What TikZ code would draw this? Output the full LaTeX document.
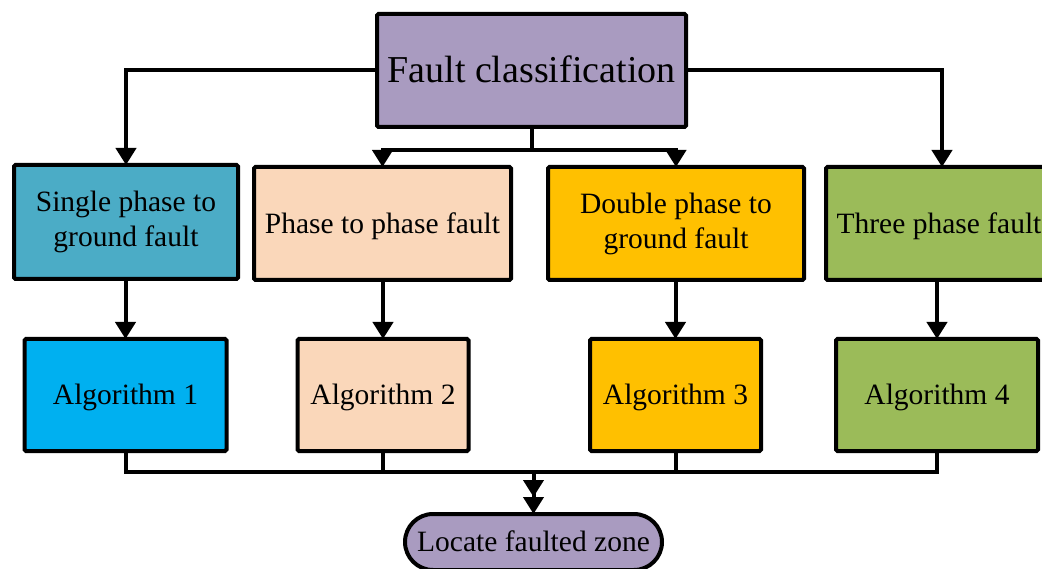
\documentclass[tikz,border=0pt]{standalone}
\usepackage{fontspec}
\setmainfont{Liberation Serif}
\usetikzlibrary{arrows.meta}
\definecolor{cTitle}{HTML}{A99BC0}
\definecolor{cTeal}{HTML}{4BACC6}
\definecolor{cPeach}{HTML}{FAD7BA}
\definecolor{cOrange}{HTML}{FFC000}
\definecolor{cGreen}{HTML}{9BBB59}
\definecolor{cBlue}{HTML}{00B0F0}
\begin{document}
\begin{tikzpicture}[x=1pt,y=-1pt,
  box/.style={draw=black, line width=4pt, rounded corners=1.5pt, inner sep=0pt, outer sep=0pt,
    font=\fontsize{29.5}{35}\selectfont},
  one/.style={text height=19.5pt, text depth=0pt},
  two/.style={align=center},
  conn/.style={line width=4pt},
  arr/.style={conn, -{Triangle[width=20pt,length=17pt]}},
  darr/.style={conn, -{Triangle[width=20pt,length=17pt]Triangle[width=20pt,length=17pt]}}]
\clip (0,0) rectangle (1042,569);
\fill[white] (0,0) rectangle (1042,569);
% top
\node[box, fill=cTitle, minimum width=309pt, minimum height=113pt, text height=25pt, text depth=0pt, font=\fontsize{38}{44}\selectfont] (title) at (531.5,70.5) {Fault classification};
% level 2
\node[box, two, fill=cTeal, minimum width=224pt, minimum height=114pt] (b1) at (126,222) {Single phase to\\ground fault};
\node[box, one, fill=cPeach, minimum width=257pt, minimum height=113pt] (b2) at (382.5,223.5) {Phase to phase fault};
\node[box, two, fill=cOrange, minimum width=256pt, minimum height=113pt] (b3) at (676,223.5) {Double phase to\\ground fault};
\node[box, one, fill=cGreen, minimum width=226pt, minimum height=113pt] (b4) at (939,223.5) {Three phase fault};
% level 3
\node[box, one, fill=cBlue, minimum width=202pt, minimum height=112pt] (a1) at (125.5,395) {Algorithm 1};
\node[box, one, fill=cPeach, minimum width=171pt, minimum height=112pt] (a2) at (383,395) {Algorithm 2};
\node[box, one, fill=cOrange, minimum width=171pt, minimum height=112pt] (a3) at (675.5,395) {Algorithm 3};
\node[box, one, fill=cGreen, minimum width=202pt, minimum height=112pt] (a4) at (937,395) {Algorithm 4};
% bottom
\node[box, one, fill=cTitle, rounded corners=28pt, minimum width=257pt, minimum height=56pt] (loc) at (533.5,542) {Locate faulted zone};
% connectors top
\coordinate (j1) at (531.5,150);
\coordinate (jl) at (126,70.5);
\coordinate (jr) at (942,70.5);
\draw[arr] (title.west |- jl) -- (jl) -- (jl |- b1.north);
\draw[arr] (title.east |- jr) -- (jr) -- (jr |- b4.north);
\draw[conn] (title.south) -- (j1);
\draw[arr] (j1) -| (b2.north);
\draw[arr] (j1) -| (b3.north);
% level 2 -> 3
\draw[arr] (a1.north |- b1.south) -- (a1.north);
\draw[arr] (a2.north |- b2.south) -- (a2.north);
\draw[arr] (a3.north |- b3.south) -- (a3.north);
\draw[arr] (a4.north |- b4.south) -- (a4.north);
% level 3 -> bottom
\coordinate (j2) at (533.5,472);
\draw[conn] (a1.south) -- (a1.south |- j2) -- (a4.south |- j2) -- (a4.south);
\draw[conn] (a2.south) -- (a2.south |- j2);
\draw[conn] (a3.south) -- (a3.south |- j2);
\draw[darr] (j2) -- (loc.north);
\end{tikzpicture}
\end{document}
